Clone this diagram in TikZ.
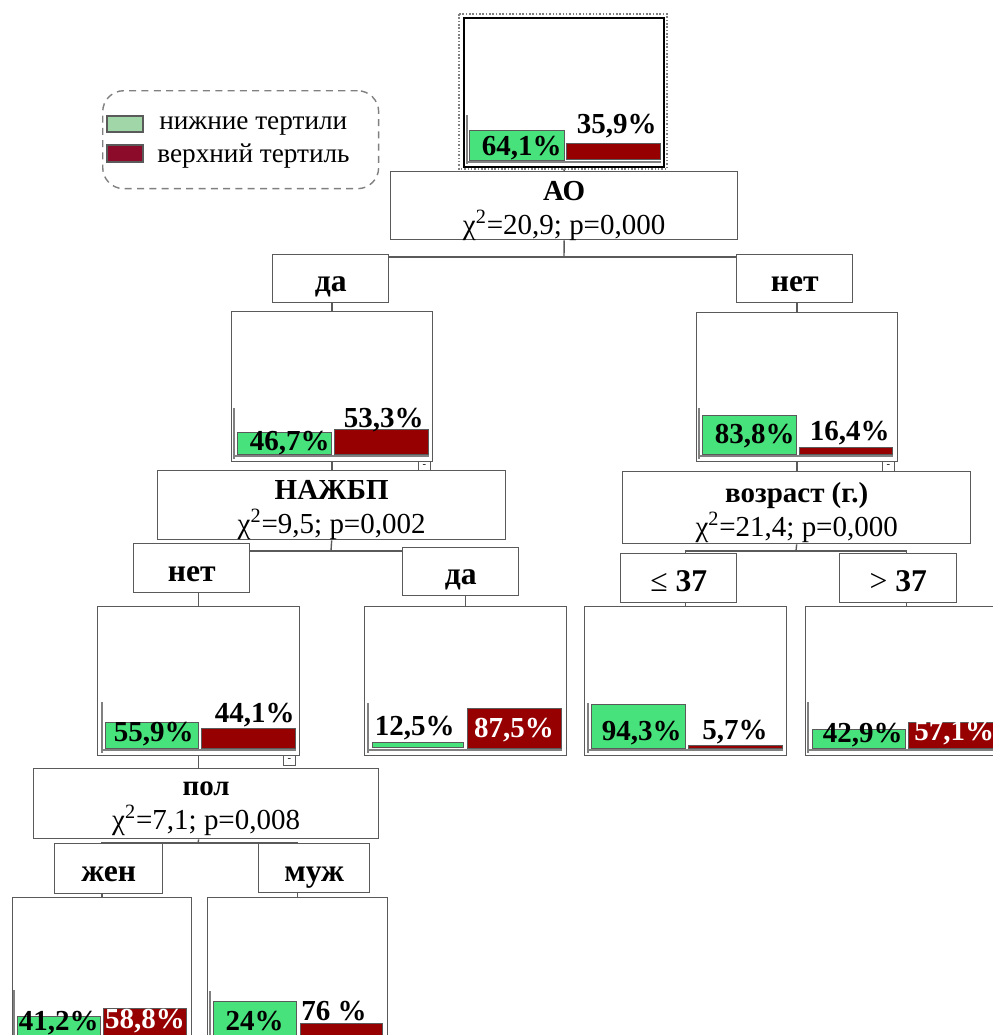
\documentclass[tikz,border=0pt]{standalone}
\usepackage{fontspec}
\setmainfont{Liberation Serif}
\usetikzlibrary{backgrounds}
\definecolor{barGreen}{RGB}{72,226,124}
\definecolor{barRed}{RGB}{150,0,0}
\definecolor{legGreen}{RGB}{160,214,168}
\definecolor{legRed}{RGB}{140,10,42}
\definecolor{frameGray}{RGB}{90,90,90}
\tikzset{
  box/.style={draw=frameGray, line width=0.8pt, fill=white, anchor=north west, inner sep=0pt},
  splittext/.style={align=center, inner sep=0pt, yshift=-2.8pt, font=\fontsize{16.5}{19.5}\selectfont},
  catbox/.style={box, font=\fontsize{18}{20}\selectfont\bfseries, text height=15pt, text depth=0pt},
  minusbox/.style={box, line width=0.5pt, minimum width=0.24cm, minimum height=0.2cm, font=\fontsize{6}{6}\selectfont},
  gbar/.style={draw=frameGray, line width=0.5pt, fill=barGreen},
  rbar/.style={draw=frameGray, line width=0.5pt, fill=barRed},
  axisv/.style={draw=gray, line width=0.6pt},
  axisbase/.style={draw=gray, line width=1.6pt},
  pct/.style={inner sep=0pt, font=\fontsize{16.5}{18}\selectfont\bfseries},
  pctw/.style={pct, text=white},
  legtext/.style={anchor=west, inner sep=0pt, font=\fontsize{15.5}{17}\selectfont},
  link/.style={draw=frameGray, line width=0.8pt},
}

\begin{document}
\begin{tikzpicture}[x=0.02cm, y=-0.02cm]
  \useasboundingbox (0,0) rectangle (993,1035);
  \clip (0,0) rectangle (993,1035);

  % legend
  \node[draw=gray, dashed, dash pattern=on 4pt off 3pt, rounded corners=12pt, line width=0.8pt,
    anchor=north west, minimum width=5.52cm, minimum height=1.96cm] (legend) at (102,90) {};
  \draw[draw=frameGray, line width=0.6pt, fill=legGreen] (107,116) rectangle (143,132);
  \draw[draw=frameGray, line width=0.6pt, fill=legRed] (107,145) rectangle (143,162);
  \node[legtext] (legLow) at (159,126) {нижние тертили};
  \node[legtext] (legUp) at (157,156) {верхний тертиль};

  % root
  \draw[densely dotted, gray, line width=0.9pt] (459,14) rectangle (667,169);
  \node[box, draw=black, line width=1.4pt, minimum width=4cm, minimum height=2.98cm] (root) at (463,17) {};
  \draw[axisv] (467,115) -- (467,164);
  \draw[axisbase] (467,162) -- (661,162);
  \draw[gbar] (469,130) rectangle (564,160);
  \draw[rbar] (566,143) rectangle (660,159);
  \node[pct, anchor=east] (rootG) at (562,148) {64,1\%};
  \node[pct, anchor=east] (rootR) at (657,126) {35,9\%};

  \node[box, minimum width=6.94cm, minimum height=1.36cm] (ao) at (390,171) {};
  \node[splittext] (aoT) at (ao.center) {\textbf{АО}\\χ\textsuperscript{2}=20,9; p=0,000};

  % level 1
  \node[catbox, minimum width=2.32cm, minimum height=0.96cm] (yes1) at (272,254) {да};
  \node[catbox, minimum width=2.32cm, minimum height=0.96cm] (no1) at (736,254) {нет};

  \node[box, minimum width=4.02cm, minimum height=3cm] (daAO) at (231,311) {};
  \draw[axisv] (234,408) -- (234,459);
  \draw[axisbase] (234,456) -- (429,456);
  \draw[gbar] (237,432) rectangle (331,454);
  \draw[rbar] (334,429) rectangle (428,454);
  \node[pct, anchor=east] (daAOg) at (330,443) {46,7\%};
  \node[pct, anchor=east] (daAOr) at (424,420) {53,3\%};
  \node[minusbox] (daAOm) at (418,461) {-};

  \node[box, minimum width=4.02cm, minimum height=2.98cm] (netAO) at (696,312) {};
  \draw[axisv] (699,408) -- (699,459);
  \draw[axisbase] (699,456) -- (893,456);
  \draw[gbar] (702,415) rectangle (796,454);
  \draw[rbar] (799,447) rectangle (892,454);
  \node[pct, anchor=east] (netAOg) at (795,436) {83,8\%};
  \node[pct, anchor=east] (netAOr) at (890,433) {16,4\%};
  \node[minusbox] (netAOm) at (882,461) {-};

  \node[box, minimum width=6.96cm, minimum height=1.38cm] (nazh) at (157,470) {};
  \node[splittext] (nazhT) at (nazh.center) {\textbf{НАЖБП}\\χ\textsuperscript{2}=9,5; p=0,002};
  \node[box, minimum width=6.96cm, minimum height=1.44cm] (age) at (622,471) {};
  \node[splittext] (ageT) at (age.center) {\textbf{возраст (г.)}\\χ\textsuperscript{2}=21,4; p=0,000};

  % level 2
  \node[catbox, minimum width=2.32cm, minimum height=0.98cm] (no2) at (133,543) {нет};
  \node[catbox, minimum width=2.32cm, minimum height=0.96cm] (yes2) at (402,547) {да};
  \node[catbox, minimum width=2.32cm, minimum height=0.98cm] (le37) at (620,553) {{\mdseries ≤} 37};
  \node[catbox, minimum width=2.34cm, minimum height=0.98cm] (gt37) at (839,553) {{\mdseries >} 37};

  \node[box, minimum width=4.04cm, minimum height=2.98cm] (nod) at (97,606) {};
  \draw[axisv] (102,702) -- (102,753);
  \draw[axisbase] (102,750) -- (296,750);
  \draw[gbar] (105,722) rectangle (198,748);
  \draw[rbar] (201,728) rectangle (295,748);
  \node[pct, anchor=east] (nodG) at (194,734) {55,9\%};
  \node[pct, anchor=east] (nodR) at (295,715) {44,1\%};
  \node[minusbox] (nodM) at (283,755) {-};

  \node[box, minimum width=4.04cm, minimum height=2.98cm] (yesd) at (364,606) {};
  \draw[axisv] (368,703) -- (368,753);
  \draw[axisbase] (368,750) -- (562,750);
  \draw[gbar] (372,742) rectangle (463,747);
  \draw[rbar] (467,708) rectangle (561,748);
  \node[pct, anchor=east] (yesdG) at (455,728) {12,5\%};
  \node[pctw] (yesdR) at (514,730) {87,5\%};

  \node[box, minimum width=4.04cm, minimum height=2.98cm] (led) at (584,606) {};
  \draw[axisv] (588,703) -- (588,753);
  \draw[axisbase] (588,750) -- (783,750);
  \draw[gbar] (591,704) rectangle (685,748);
  \draw[rbar] (688,745) rectangle (782,748);
  \node[pct, anchor=east] (ledG) at (682,733) {94,3\%};
  \node[pct, anchor=east] (ledR) at (768,732) {5,7\%};

  \node[box, minimum width=4.04cm, minimum height=2.98cm] (gtd) at (805,606) {};
  \draw[axisv] (808,702) -- (808,753);
  \draw[axisbase] (808,750) -- (1003,750);
  \draw[gbar] (812,729) rectangle (905,748);
  \draw[rbar] (908,722) rectangle (1002,748);
  \node[pct, anchor=east] (gtdG) at (903,735) {42,9\%};
  \node[pctw, anchor=west] (gtdR) at (914,733) {57,1\%};

  \node[box, minimum width=6.9cm, minimum height=1.4cm] (pol) at (33,768) {};
  \node[splittext] (polT) at (pol.center) {\textbf{пол}\\χ\textsuperscript{2}=7,1; p=0,008};

  % level 3
  \node[catbox, minimum width=2.16cm, minimum height=1cm] (fem) at (54,843) {жен};
  \node[catbox, minimum width=2.22cm, minimum height=0.98cm] (male) at (258,843) {муж};

  \node[box, minimum width=3.58cm, minimum height=3cm] (femd) at (12,897) {};
  \draw[axisv] (14,990) -- (14,1050);
  \draw[gbar] (17,1016) rectangle (100,1050);
  \draw[rbar] (103,1008) rectangle (186,1050);
  \node[pct, anchor=east] (femdG) at (99,1023) {41,2\%};
  \node[pctw] (femdR) at (145,1021) {58,8\%};

  \node[box, minimum width=3.6cm, minimum height=3cm] (maled) at (207,897) {};
  \draw[axisv] (210,991) -- (210,1050);
  \draw[gbar] (213,1001) rectangle (296,1050);
  \draw[rbar] (300,1023) rectangle (382,1050);
  \node[pct, anchor=east] (maledG) at (284,1021) {24\%};
  \node[pct, anchor=east] (maledR) at (367,1011) {76 \%};

  % connectors
  \begin{scope}[on background layer]
    \draw[link] (root.south) -- (ao.north);
    \coordinate (s1) at (564,257);
    \draw[link] (ao.south) -- (s1);
    \draw[link] (daAO.north) |- (s1) -| (netAO.north);
    \draw[link] (daAO.south) -- (daAO.south |- nazh.north);
    \draw[link] (netAO.south) -- (netAO.south |- age.north);
    \coordinate (s2) at (331,551);
    \draw[link] (nazh.south) -- (s2);
    \draw[link] (nod.north) |- (s2) -| (yesd.north);
    \coordinate (s3) at (796,551);
    \draw[link] (age.south) -- (s3);
    \draw[link] (led.north) |- (s3) -| (gtd.north);
    \draw[link] (nod.south) -- (nod.south |- pol.north);
    \coordinate (s4) at (198,843);
    \draw[link] (nod.south |- pol.south) -- (s4);
    \draw[link] (femd.north) |- (s4) -| (maled.north);
  \end{scope}
\end{tikzpicture}
\end{document}
